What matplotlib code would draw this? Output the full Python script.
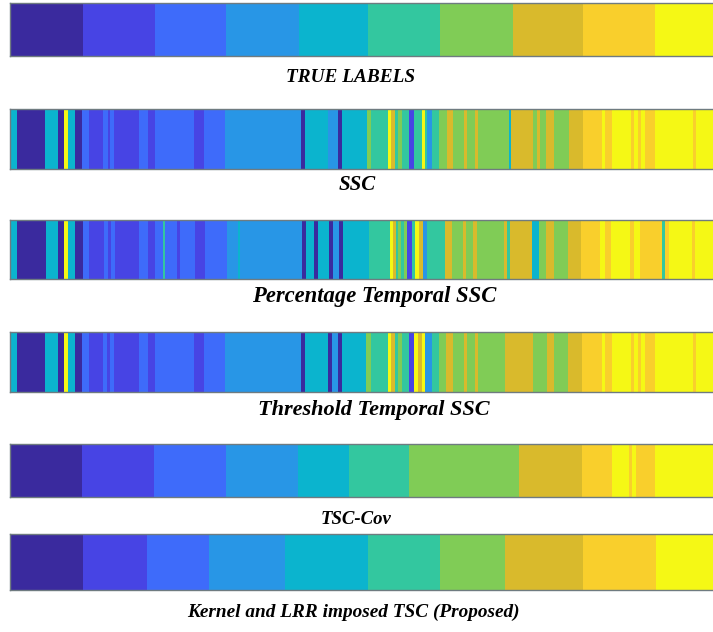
import numpy as np
import matplotlib
matplotlib.use("Agg")
import matplotlib.pyplot as plt
from matplotlib.colors import ListedColormap, BoundaryNorm

# ---- data: segment end frame and cluster label for each method ----
true_ends = [72, 143, 214, 286, 354, 425, 497, 567, 638, 703]
true_labels = [1, 2, 3, 4, 5, 6, 7, 8, 9, 10]

ssc_ends = [7, 35, 47, 53, 57, 64, 71, 78, 92, 97, 99, 103, 128, 136, 143, 182, 192, 213,
            288, 292, 314, 324, 328, 353, 357, 374, 377, 381, 384, 388, 395, 399, 407, 410,
            412, 417, 424, 432, 438, 449, 452, 460, 463, 493, 495, 517, 521, 524, 530, 538,
            553, 567, 585, 588, 595, 614, 617, 621, 624, 628, 638, 675, 678, 703]
ssc_labels = [5, 1, 5, 1, 10, 5, 1, 3, 2, 3, 2, 3, 2, 3, 2, 3, 2, 3,
              4, 1, 5, 4, 1, 5, 7, 6, 10, 8, 6, 7, 6, 2, 6, 10,
              6, 4, 6, 7, 8, 7, 8, 7, 8, 7, 5, 8, 7, 8, 7, 8,
              7, 8, 9, 10, 9, 10, 9, 10, 9, 10, 9, 10, 9, 10]

pct_ends = [7, 36, 47, 53, 57, 64, 72, 78, 93, 97, 100, 104, 128, 136, 143, 151, 153, 165,
            168, 183, 193, 215, 225, 227, 289, 293, 301, 305, 315, 319, 325, 329, 355, 376,
            379, 382, 384, 387, 390, 393, 397, 400, 404, 408, 412, 430, 437, 448, 451, 458,
            462, 488, 491, 494, 516, 523, 530, 538, 552, 565, 583, 588, 594, 613, 617, 623,
            645, 648, 652, 674, 677, 703]
pct_labels = [5, 1, 5, 1, 10, 5, 1, 3, 2, 3, 2, 3, 2, 3, 2, 3, 6, 3,
              2, 3, 2, 3, 4, 5, 4, 1, 5, 1, 5, 1, 4, 1, 5, 6,
              10, 8, 6, 7, 6, 7, 2, 6, 10, 8, 4, 6, 8, 7, 8, 7,
              8, 7, 8, 6, 8, 5, 7, 8, 7, 8, 9, 10, 9, 10, 9, 10,
              9, 6, 9, 10, 9, 10]

thr_ends = [7, 35, 47, 53, 57, 64, 71, 78, 92, 96, 99, 103, 128, 136, 143, 182, 192, 213,
            288, 292, 314, 318, 324, 328, 352, 357, 374, 377, 381, 384, 388, 395, 399, 403,
            407, 410, 417, 424, 431, 438, 449, 452, 460, 463, 489, 517, 531, 538, 552, 566,
            585, 588, 595, 614, 617, 621, 624, 628, 638, 675, 678, 703]
thr_labels = [5, 1, 5, 1, 10, 5, 1, 3, 2, 3, 2, 3, 2, 3, 2, 3, 2, 3,
              4, 1, 5, 1, 4, 1, 5, 7, 6, 10, 8, 6, 7, 6, 2, 10,
              8, 10, 4, 6, 7, 8, 7, 8, 7, 8, 7, 8, 7, 8, 7, 8,
              9, 10, 9, 10, 9, 10, 9, 10, 9, 10, 9, 10]

cov_ends = [71, 142, 214, 285, 335, 395, 503, 566, 595, 612, 615, 619, 638, 703]
cov_labels = [1, 2, 3, 4, 5, 6, 7, 8, 9, 10, 9, 10, 9, 10]

prop_ends = [72, 135, 197, 272, 354, 425, 489, 567, 639, 703]
prop_labels = [1, 2, 3, 4, 5, 6, 7, 8, 9, 10]

titles = ["TRUE LABELS", "SSC", "Percentage Temporal SSC", "Threshold Temporal SSC",
          "TSC-Cov", "Kernel and LRR imposed TSC (Proposed)"]

class_colors = ['#3A2A9E', '#4744E4', '#3E6BFA', '#2896E6', '#0BB4CE',
                '#33C79F', '#80CC56', '#D9BA2C', '#F9CF2C', '#F5F815']

strips = [(true_ends, true_labels), (ssc_ends, ssc_labels), (pct_ends, pct_labels),
          (thr_ends, thr_labels), (cov_ends, cov_labels), (prop_ends, prop_labels)]

# ---- layout (pixel rows of each strip and label) ----
W, H = 713, 632
strip_rows = [(3, 56), (109, 169), (220, 279), (332, 392), (444, 497), (534, 590)]
label_x = [351, 357, 374, 374, 356, 353]
label_y = [77, 185, 296, 410, 519, 612]
label_size = [13.9, 15, 16.3, 16, 13.5, 13.9]

fig = plt.figure(figsize=(W / 100, H / 100), dpi=100)
cmap = ListedColormap(class_colors)
norm = BoundaryNorm(np.arange(0.5, 11.5, 1), cmap.N)

for (ends, labs), (top, bot), lx, ly, t, fs in zip(strips, strip_rows, label_x, label_y,
                                                   titles, label_size):
    ax = fig.add_axes([10 / W, 1 - bot / H, (W - 10) / W + 0.01, (bot - top) / H])
    ends = np.asarray(ends)
    lengths = np.diff(np.concatenate([[0], ends]))
    seq = np.repeat(labs, lengths)
    ax.imshow(seq[None, :], aspect='auto', cmap=cmap, norm=norm,
              interpolation='nearest', extent=[0, ends[-1], 0, 1])
    ax.set_xlim(0, ends[-1])
    ax.set_xticks([])
    ax.set_yticks([])
    for s in ax.spines.values():
        s.set_color('#6f7b80')
        s.set_linewidth(1.0)
    fig.text(lx / W, 1 - ly / H, t, ha='center', va='center', fontsize=fs,
             fontweight='bold', fontstyle='italic', family='Liberation Serif')

fig.savefig("out.png", dpi=100)
